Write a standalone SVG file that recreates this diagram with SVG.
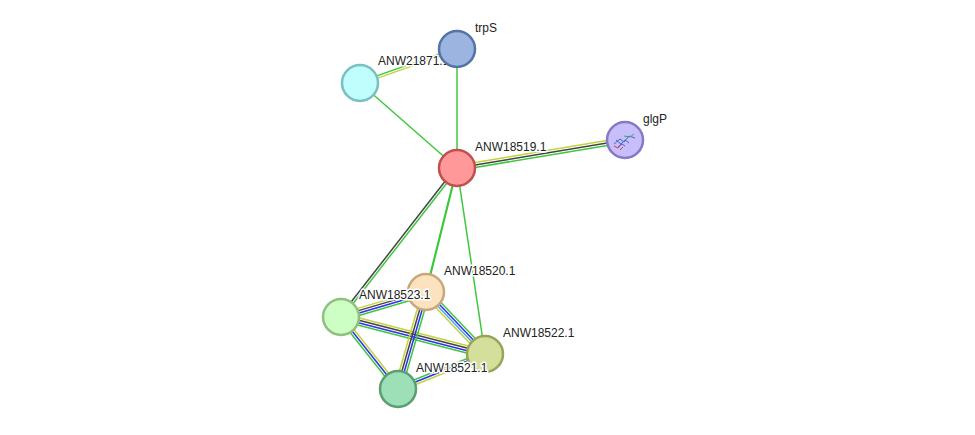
<svg xmlns="http://www.w3.org/2000/svg" width="975" height="435" viewBox="0 0 975 435">
<style>
line{stroke-width:1.5;fill:none}
.g{stroke:#3dc83d}.y{stroke:#c3d33c}.k{stroke:#444}.b{stroke:#3030ee}.c{stroke:#4aa8e8}
.n{stroke-width:2.5}
text{font-family:"Liberation Sans",Arial,sans-serif;font-size:12px;fill:#222;stroke:#fff;stroke-width:3;paint-order:stroke;stroke-linejoin:round}
</style>
<rect width="975" height="435" fill="#fff"/>
<g id="connectors">
<line class="g" x1="359.6" y1="81.9" x2="456.6" y2="47.9"/>
<line class="y" x1="360.4" y1="84.1" x2="457.4" y2="50.1"/>
<line class="g" x1="360" y1="83" x2="457" y2="168"/>
<line class="g" x1="457" y1="49" x2="457" y2="168"/>
<line class="y" x1="456.6" y1="165.6" x2="624.6" y2="137.6"/>
<line class="k" x1="457" y1="168" x2="625" y2="140"/>
<line class="g" x1="457.4" y1="170.4" x2="625.4" y2="142.4"/>
<line class="k" x1="456" y1="167.3" x2="340" y2="316.3"/>
<line class="g" x1="458" y1="168.7" x2="342" y2="317.7"/>
<line class="g" style="stroke-width:2.2" x1="457" y1="168" x2="426" y2="292"/>
<line class="g" x1="457" y1="168" x2="485" y2="354"/>
<line class="y" x1="340" y1="313.6" x2="425" y2="288.6"/>
<line class="k" x1="340.7" y1="315.9" x2="425.7" y2="290.9"/>
<line class="b" x1="341.3" y1="318.2" x2="426.3" y2="293.2"/>
<line class="g" x1="342" y1="320.5" x2="427" y2="295.5"/>
<line class="y" x1="341.9" y1="313.5" x2="485.9" y2="350.5"/>
<line class="k" x1="341.3" y1="315.8" x2="485.3" y2="352.8"/>
<line class="b" x1="340.7" y1="318.2" x2="484.7" y2="355.2"/>
<line class="g" x1="340.1" y1="320.5" x2="484.1" y2="357.5"/>
<line class="g" x1="339.1" y1="318.5" x2="396.1" y2="390.5"/>
<line class="b" x1="341" y1="317" x2="398" y2="389"/>
<line class="y" x1="342.9" y1="315.5" x2="399.9" y2="387.5"/>
<line class="y" x1="423.4" y1="294.5" x2="482.4" y2="356.5"/>
<line class="c" x1="425.1" y1="292.8" x2="484.1" y2="354.8"/>
<line class="b" x1="426.9" y1="291.2" x2="485.9" y2="353.2"/>
<line class="g" x1="428.6" y1="289.5" x2="487.6" y2="351.5"/>
<line class="y" x1="422.5" y1="291" x2="394.5" y2="388"/>
<line class="k" x1="424.8" y1="291.7" x2="396.8" y2="388.7"/>
<line class="b" x1="427.2" y1="292.3" x2="399.2" y2="389.3"/>
<line class="g" x1="429.5" y1="293" x2="401.5" y2="390"/>
<line class="g" x1="397.1" y1="386.8" x2="484.1" y2="351.8"/>
<line class="b" x1="398" y1="389" x2="485" y2="354"/>
<line class="y" x1="398.9" y1="391.2" x2="485.9" y2="356.2"/>
</g>
<text x="378" y="65">ANW21871.1</text>
<g id="trpS"><circle class="n" cx="457" cy="49" r="18" fill="#9bb4e0" stroke="#5573a5"/><text x="475" y="32">trpS</text></g>
<g id="ANW21871"><circle class="n" cx="360" cy="83" r="18" fill="#c0fefe" stroke="#7ac0c0"/></g>
<g id="glgP"><circle class="n" cx="625" cy="140" r="18" fill="#c8befa" stroke="#8878c8"/>
<path d="M614 144l6-5 4 3 5-6 6 2M616 140l5 4 4-4 4 3M618 147l4-3 3 2" stroke="#3a6ac8" stroke-width="1" fill="none"/>
<path d="M614 146l4 2 3-4M620 150l3-3" stroke="#c04060" stroke-width="1" fill="none"/>
<path d="M624 136l6 1 4-3" stroke="#40a080" stroke-width="1" fill="none"/>
<text x="643" y="123">glgP</text></g>
<g id="ANW18519"><circle class="n" cx="457" cy="168" r="18" fill="#ff9999" stroke="#c05050"/><text x="475" y="151">ANW18519.1</text></g>
<g id="ANW18523"><circle class="n" cx="341" cy="317" r="18" fill="#cdfec4" stroke="#8fc080"/></g>
<g id="ANW18520"><circle class="n" cx="426" cy="292" r="18" fill="#fde2bf" stroke="#c8a87a"/><text x="444" y="275">ANW18520.1</text></g>
<text x="359" y="299">ANW18523.1</text>
<g id="ANW18522"><circle class="n" cx="485" cy="354" r="18" fill="#d3df9b" stroke="#99a35a"/><text x="503" y="337">ANW18522.1</text></g>
<g id="ANW18521"><circle class="n" cx="398" cy="389" r="18" fill="#9ddfb6" stroke="#5a9e72"/><text x="416" y="372">ANW18521.1</text></g>
</svg>
